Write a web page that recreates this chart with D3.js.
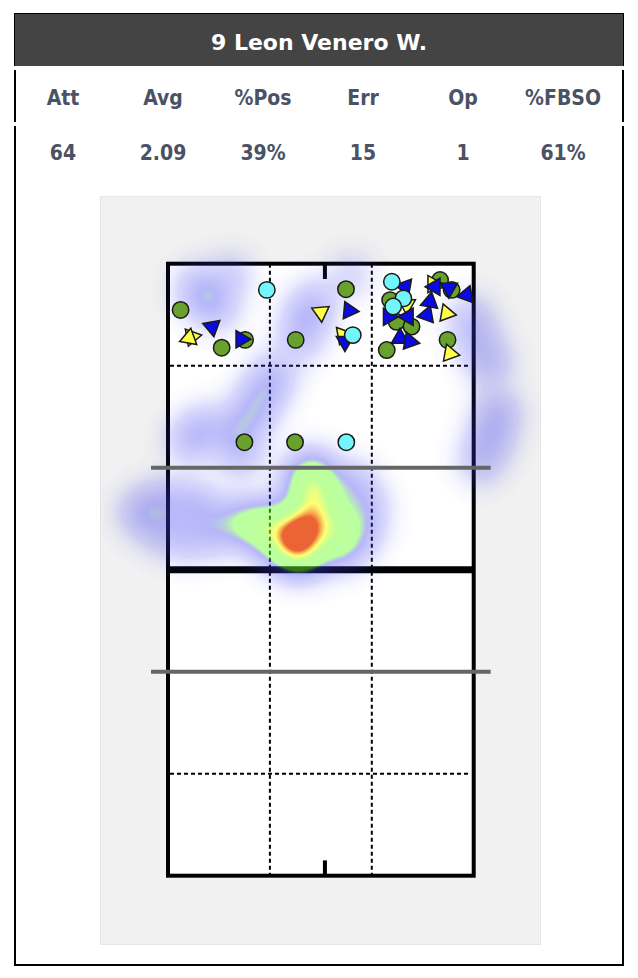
<!DOCTYPE html>
<html><head><meta charset="utf-8">
<script src="https://cdn.jsdelivr.net/npm/d3@7"></script>
<style>body{margin:0;background:#fff}svg{display:block}</style>
</head><body><div id="chart"></div>
<script>
const title = "9 Leon Venero W.";
const statLabels = ["Att","Avg","%Pos","Err","Op","%FBSO"];
const statValues = ["64","2.09","39%","15","1","61%"];

// court coordinates in metres: x 0..9 across, y 0..18 from top baseline
const greenCircles = [[0.37,1.36],[1.58,2.47],[2.27,2.24],[3.76,2.24],[5.24,0.75],[2.25,5.25],[3.74,5.25],
  [6.54,1.07],[6.73,1.71],[7.17,1.85],[6.44,2.54],[8.01,0.48],[8.35,0.77],[8.23,2.24]];
const cyanCircles = [[2.91,0.77],[5.44,2.10],[5.25,5.25],[6.59,0.53],[6.93,1.02],[6.63,1.26]];
// [x, y, direction in degrees]
const blueTriangles = [[1.30,1.86,170],[2.15,2.22,90],[5.33,1.38,95],[5.21,2.29,180],[6.98,0.68,160],
  [6.49,1.56,-30],[7.07,1.56,30],[7.62,1.51,260],[7.71,1.12,250],[7.86,0.68,270],[8.27,0.72,180],
  [8.79,0.92,20],[6.83,2.19,120],[7.12,2.29,100]];
const yellowTriangles = [[0.70,2.15,200],[0.62,2.19,250],[4.50,1.43,175],[5.15,2.10,200],[7.03,1.21,300],
  [7.80,0.60,90],[8.20,1.46,100],[8.30,2.64,220]];
// heat points [x, y, weight]
const heatPoints = [
  [3.80,7.95,0.25],[3.95,7.80,0.25],[3.68,8.10,0.23],[4.10,7.65,0.2],
  [4.24,6.07,0.27],[4.40,6.60,0.26],[4.45,7.15,0.2],[4.05,6.85,0.18],[3.90,6.30,0.12],
  [2.12,7.54,0.24],[2.65,7.77,0.24],[3.06,7.48,0.22],[3.00,8.20,0.18],
  [3.59,8.60,0.25],[4.10,8.62,0.25],[4.85,7.60,0.25],[4.90,8.15,0.2],
  [-0.82,7.30,0.19],[-0.24,6.95,0.14],[0.50,6.95,0.14],[1.09,7.24,0.16],[1.38,7.98,0.16],[0.50,8.13,0.15],[-0.24,7.83,0.15],
  [0.65,5.18,0.2],[1.09,4.74,0.14],[1.97,4.95,0.16],[2.41,4.54,0.14],[2.12,5.63,0.17],
  [2.85,3.70,0.17],[3.15,3.20,0.15],[2.55,4.15,0.12],
  [5.42,6.42,0.18],[5.80,7.10,0.17],[5.71,7.83,0.17],[5.21,8.42,0.16],
  [9.69,4.36,0.21],[9.48,5.13,0.2],[9.18,5.83,0.16],[9.42,2.89,0.2],
  [1.09,1.01,0.17],[1.47,1.36,0.13],[0.79,0.63,0.13],[1.83,0.33,0.13],
  [4.03,1.60,0.19],[4.33,1.07,0.14],[3.89,2.24,0.14],
  [9.04,2.10,0.16],[8.89,1.51,0.13],[5.36,0.33,0.11]
];

const W = 638, H = 978;
const svg = d3.select("#chart").append("svg").attr("width", W).attr("height", H);
const FONT = "'DejaVu Sans', Verdana, sans-serif";
const FONT_C = "'DejaVu Sans Condensed', 'DejaVu Sans', sans-serif";

// frame + header
svg.append("rect").attr("x",15).attr("y",14).attr("width",608).attr("height",951)
  .attr("fill","#fff").attr("stroke","#000").attr("stroke-width",2);
svg.append("rect").attr("x",15).attr("y",14).attr("width",608).attr("height",52).attr("fill","#444");
[[66,4],[122,4]].forEach(([yy,h])=>{
  svg.append("rect").attr("x",13).attr("y",yy).attr("width",4).attr("height",h).attr("fill","#fff");
  svg.append("rect").attr("x",621).attr("y",yy).attr("width",4).attr("height",h).attr("fill","#fff");
});
svg.append("text").attr("x",319).attr("y",50).attr("text-anchor","middle")
  .attr("font-family",FONT).attr("font-weight","bold").attr("font-size",22).attr("fill","#fff").text(title);

const colX = d3.scalePoint().domain(statLabels).range([63,563]);
svg.append("g").selectAll("text").data(statLabels).join("text")
  .attr("x",d=>colX(d)).attr("y",105).attr("text-anchor","middle")
  .attr("font-family",FONT_C).attr("font-weight","bold").attr("font-size",21).attr("fill","#4a5264").text(d=>d);
svg.append("g").selectAll("text").data(statValues).join("text")
  .attr("x",(d,i)=>colX(statLabels[i])).attr("y",160).attr("text-anchor","middle")
  .attr("font-family",FONT_C).attr("font-weight","bold").attr("font-size",21).attr("fill","#4a5264").text(d=>d);

// panel
const panel = {x:100.5,y:196.5,w:440,h:748};
svg.append("rect").attr("x",panel.x).attr("y",panel.y).attr("width",panel.w).attr("height",panel.h)
  .attr("fill","#f1f1f1").attr("stroke","#e6e6e6").attr("stroke-width",1);
svg.append("clipPath").attr("id","pclip").append("rect")
  .attr("x",panel.x).attr("y",panel.y).attr("width",panel.w).attr("height",panel.h);

const x = d3.scaleLinear().domain([0,9]).range([168,473.7]);
const y = d3.scaleLinear().domain([0,18]).range([263.7,875.7]);

// court
svg.append("rect").attr("x",x(0)).attr("y",y(0)).attr("width",x(9)-x(0)).attr("height",y(18)-y(0)).attr("fill","#fff");
const dashV = [3,6], dashH = [3,15];
svg.append("g").selectAll("line").data(dashV).join("line")
  .attr("x1",d=>x(d)).attr("x2",d=>x(d)).attr("y1",y(0)).attr("y2",y(18))
  .attr("stroke","#000").attr("stroke-width",2).attr("stroke-dasharray","4,3");
svg.append("g").selectAll("line").data(dashH).join("line")
  .attr("x1",x(0)+2).attr("x2",x(9)-4).attr("y1",d=>y(d)).attr("y2",d=>y(d))
  .attr("stroke","#000").attr("stroke-width",2).attr("stroke-dasharray","4,3");
svg.append("line").attr("x1",x(0)).attr("x2",x(9)).attr("y1",y(9)).attr("y2",y(9))
  .attr("stroke","#000").attr("stroke-width",7);
svg.append("rect").attr("x",x(0)).attr("y",y(0)).attr("width",x(9)-x(0)).attr("height",y(18)-y(0))
  .attr("fill","none").attr("stroke","#000").attr("stroke-width",4);
const ticks = [[0,0.45],[17.55,18]];
svg.append("g").selectAll("line").data(ticks).join("line")
  .attr("x1",x(4.62)).attr("x2",x(4.62)).attr("y1",d=>y(d[0])).attr("y2",d=>y(d[1]))
  .attr("stroke","#000").attr("stroke-width",4);

// heat
const cv = document.createElement("canvas"); cv.width = W; cv.height = H;
const ctx = cv.getContext("2d");
const field = new Float32Array(W*H);
const sig = 17, R = 55;
heatPoints.forEach(([mx,my,w])=>{
  const cx = x(mx), cy = y(my);
  for (let py=Math.max(0,Math.floor(cy-R)); py<=Math.min(H-1,Math.ceil(cy+R)); py++)
    for (let px=Math.max(0,Math.floor(cx-R)); px<=Math.min(W-1,Math.ceil(cx+R)); px++){
      const d2=(px-cx)*(px-cx)+(py-cy)*(py-cy);
      if (d2<R*R) field[py*W+px] += w*Math.exp(-d2/(2*sig*sig));
    }
});
const stops = [0,0.12,0.33,0.42,0.72,0.86,1];
const colorScale = d3.scaleLinear().domain(stops)
  .range(["#3c3cf0","#3c3cf0","#4040f0","#66ff30","#80ff30","#ffff20","#e84a10"]).clamp(true);
const alphaScale = d3.scaleLinear().domain(stops).range([0,0.2,0.38,0.45,0.5,0.62,0.85]).clamp(true);
const img = ctx.createImageData(W,H);
for (let i=0;i<W*H;i++){
  const v = Math.min(1, field[i]);
  if (v<0.005) continue;
  const c = d3.rgb(colorScale(v));
  img.data[i*4]=c.r; img.data[i*4+1]=c.g; img.data[i*4+2]=c.b; img.data[i*4+3]=Math.round(alphaScale(v)*255);
}
ctx.putImageData(img,0,0);
svg.append("image").attr("href",cv.toDataURL()).attr("x",0).attr("y",0).attr("width",W).attr("height",H)
  .attr("clip-path","url(#pclip)");

// attack lines
const attack = [6,12];
svg.append("g").selectAll("line").data(attack).join("line")
  .attr("x1",x(-0.5)).attr("x2",x(9.5)).attr("y1",d=>y(d)).attr("y2",d=>y(d))
  .attr("stroke","#666").attr("stroke-width",4);

// markers
const tri = d3.symbol().type(d3.symbolTriangle).size(130);
const mk = svg.append("g").attr("stroke","#1a1a1a").attr("stroke-width",1.5);
mk.selectAll(".g").data(greenCircles).join("circle").attr("class","g")
  .attr("cx",d=>x(d[0])).attr("cy",d=>y(d[1])).attr("r",8.2).attr("fill","#68a22c");
mk.selectAll(".y").data(yellowTriangles).join("path").attr("class","y")
  .attr("d",tri).attr("transform",d=>`translate(${x(d[0])},${y(d[1])}) rotate(${d[2]})`).attr("fill","#ffff4a");
mk.selectAll(".b").data(blueTriangles).join("path").attr("class","b")
  .attr("d",tri).attr("transform",d=>`translate(${x(d[0])},${y(d[1])}) rotate(${d[2]})`).attr("fill","#0a0ae6");
mk.selectAll(".c").data(cyanCircles).join("circle").attr("class","c")
  .attr("cx",d=>x(d[0])).attr("cy",d=>y(d[1])).attr("r",8.2).attr("fill","#72f6fb");
</script></body></html>
